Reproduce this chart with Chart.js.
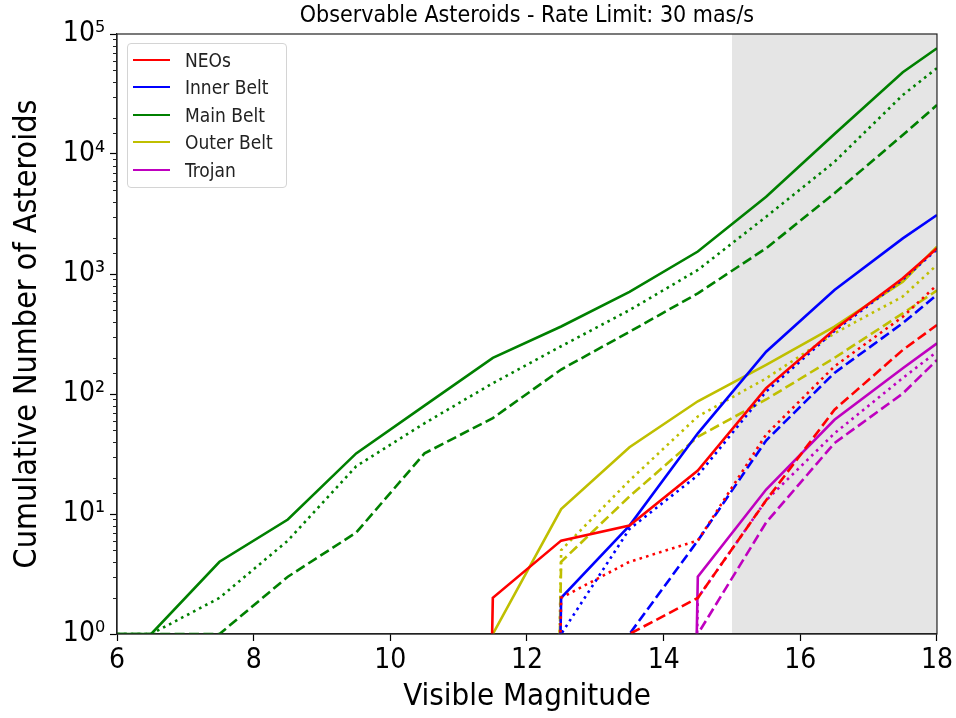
<!DOCTYPE html>
<html>
<head>
<meta charset="utf-8">
<title>Observable Asteroids - Rate Limit: 30 mas/s</title>
<script src="https://cdn.jsdelivr.net/npm/chart.js@4.4.1/dist/chart.umd.min.js"></script>
<style>
    body { margin: 0; background: #fff; }
    #wrap { position: relative; width: 956px; height: 718px; }
    .legend {
        position: absolute;
        box-sizing: border-box;
        width: 160px;
        height: 145px;
        padding-top: 2px;
        border: 1px solid #d4d4d4;
        border-radius: 4px;
        background: rgba(255, 255, 255, 0.8);
        font-family: "DejaVu Sans Condensed", "DejaVu Sans", sans-serif;
        font-size: 19px;
        color: #222;
    }
    .legend .item { height: 27.5px; display: flex; align-items: center; }
    .legend .swatch { display: inline-block; width: 37px; height: 0; border-top: 2.6px solid; margin: 0 15px 0 5px; }
</style>
</head>
<body>
<div id="wrap">
    <canvas id="chart" width="956" height="718"></canvas>
    <div class="legend" id="legend"></div>
</div>
<script>
const magnitudes = [6, 6.5, 7.5, 8.5, 9.5, 10.5, 11.5, 12.5, 13.5, 14.5, 15.5, 16.5, 17.5, 18];

// NEOs
const neoSolid  = [0, 0, 0, 0, 0, 0, 2, 6, 8, 23, 112, 345, 920, 1640];
const neoDotted = [0, 0, 0, 0, 0, 0, 0, 2, 4, 6, 46, 170, 440, 810];
const neoDashed = [0, 0, 0, 0, 0, 0, 0, 0, 1, 2, 13, 74, 233, 376];
// Inner Belt
const innerSolid  = [0, 0, 0, 0, 0, 0, 0, 2, 8, 47, 225, 735, 1980, 3100];
const innerDotted = [0, 0, 0, 0, 0, 0, 0, 1, 7.5, 21, 105, 335, 900, 1600];
const innerDashed = [0, 0, 0, 0, 0, 0, 0, 0, 1, 6, 41, 150, 390, 670];
// Main Belt
const mainSolid  = [1, 1, 4, 9, 32, 80, 200, 365, 710, 1540, 4400, 14700, 48000, 76000];
const mainDotted = [1, 1, 2, 6, 25, 57, 123, 250, 500, 1080, 3000, 8600, 31000, 52000];
const mainDashed = [1, 1, 1, 3, 7, 32, 63, 160, 330, 690, 1640, 4700, 14400, 25600];
// Outer Belt
const outerSolid  = [0, 0, 0, 0, 0, 0, 1, 11, 36, 87, 175, 364, 863, 1690];
const outerDotted = [0, 0, 0, 0, 0, 0, 0, 5, 19, 65, 135, 320, 650, 1190];
const outerDashed = [0, 0, 0, 0, 0, 0, 0, 4, 14, 44, 90, 200, 470, 730];
// Trojan
const trojanSolid  = [0, 0, 0, 0, 0, 0, 0, 0, 0, 3, 16, 61, 164, 264];
const trojanDotted = [0, 0, 0, 0, 0, 0, 0, 0, 0, 2, 13, 47, 136, 225];
const trojanDashed = [0, 0, 0, 0, 0, 0, 0, 0, 0, 1, 8.5, 39, 101, 192];

const populations = ['NEOs', 'Inner Belt', 'Main Belt', 'Outer Belt', 'Trojan'];
const colors = ['#ff0000', '#0000ff', '#008000', '#bfbf00', '#bf00bf'];
const seriesByPopulation = [
    [neoSolid, neoDotted, neoDashed],
    [innerSolid, innerDotted, innerDashed],
    [mainSolid, mainDotted, mainDashed],
    [outerSolid, outerDotted, outerDashed],
    [trojanSolid, trojanDotted, trojanDashed]
];

const xTicks = [6, 8, 10, 12, 14, 16, 18];
const yMin = 1, yMax = 1e5;
const shadeFrom = 15;

const FONT = '"DejaVu Sans Condensed", "DejaVu Sans", sans-serif';
const dashes = [[], [2.6, 4.2], [10, 4.4]];
const superscripts = ['⁰', '¹', '²', '³', '⁴', '⁵', '⁶'];

// matplotlib clips non-positive values on a log axis, so a zero count
// drops straight down out of the plot
function clipLog(v) {
    return v > 0 ? v : 1e-30;
}

function isDecade(v) {
    const e = Math.log10(v);
    return Math.abs(e - Math.round(e)) < 1e-9;
}

const datasets = [];
seriesByPopulation.forEach((group, p) => {
    group.forEach((values, s) => {
        datasets.push({
            label: s === 0 ? populations[p] : populations[p] + ' ' + s,
            data: magnitudes.map((m, i) => ({ x: m, y: clipLog(values[i]) })),
            borderColor: colors[p],
            borderWidth: 2.6,
            borderDash: dashes[s],
            borderCapStyle: 'butt',
            pointRadius: 0,
            tension: 0,
            fill: false
        });
    });
});

const axesPlugin = {
    id: 'axesDecor',
    beforeDraw(chart) {
        const { ctx, chartArea: a, scales } = chart;
        ctx.save();
        ctx.fillStyle = '#fff';
        ctx.fillRect(0, 0, chart.width, chart.height);
        const x0 = scales.x.getPixelForValue(shadeFrom);
        ctx.fillStyle = '#e5e5e5';
        ctx.fillRect(x0, a.top, a.right - x0, a.bottom - a.top);
        ctx.restore();
    },
    afterDraw(chart) {
        const { ctx, chartArea: a, scales } = chart;
        ctx.save();
        ctx.strokeStyle = '#222';
        ctx.lineWidth = 1.2;
        ctx.strokeRect(a.left, a.top, a.right - a.left, a.bottom - a.top);
        // minor ticks on the log axis
        ctx.lineWidth = 1;
        scales.y.ticks.forEach(t => {
            if (isDecade(t.value)) return;
            const y = Math.round(scales.y.getPixelForValue(t.value)) + 0.5;
            ctx.beginPath();
            ctx.moveTo(a.left - 4, y);
            ctx.lineTo(a.left, y);
            ctx.stroke();
        });
        ctx.restore();
    }
};

Chart.defaults.font.family = FONT;
Chart.defaults.color = '#000';

const chart = new Chart(document.getElementById('chart'), {
    type: 'line',
    data: { datasets },
    options: {
        responsive: false,
        animation: false,
        layout: { padding: { left: 0, right: 18, top: 0, bottom: 0 } },
        plugins: {
            legend: { display: false },
            tooltip: { enabled: false },
            title: {
                display: true,
                text: 'Observable Asteroids - Rate Limit: 30 mas/s',
                fullSize: false,
                color: '#000',
                font: { size: 23, weight: 'normal' },
                padding: { top: 2, bottom: 4.4 }
            }
        },
        scales: {
            x: {
                type: 'linear',
                min: 6,
                max: 18,
                afterBuildTicks: s => { s.ticks = xTicks.map(v => ({ value: v })); },
                ticks: { font: { size: 28 }, color: '#000', padding: 3, maxRotation: 0 },
                grid: { drawOnChartArea: false, tickLength: 7, color: '#000', tickWidth: 1.2 },
                border: { color: '#222', width: 1.2 },
                title: {
                    display: true,
                    text: 'Visible Magnitude',
                    color: '#000',
                    font: { size: 31 },
                    padding: { top: 0, bottom: 2 }
                },
                afterFit: s => { s.height = 84; }
            },
            y: {
                type: 'logarithmic',
                min: yMin,
                max: yMax,
                ticks: {
                    autoSkip: false,
                    font: { size: 28 },
                    color: '#000',
                    padding: 5,
                    callback: v => isDecade(v) ? '10' + superscripts[Math.round(Math.log10(v))] : ''
                },
                grid: {
                    drawOnChartArea: false,
                    tickLength: 7,
                    tickWidth: 1.2,
                    tickColor: c => (c.tick && isDecade(c.tick.value)) ? '#000' : 'rgba(0,0,0,0)'
                },
                border: { color: '#222', width: 1.2 },
                title: {
                    display: true,
                    text: 'Cumulative Number of Asteroids',
                    color: '#000',
                    font: { size: 32 },
                    padding: { top: 8, bottom: 0 }
                },
                afterFit: s => { s.width = 117; }
            }
        }
    },
    plugins: [axesPlugin]
});

// legend box in the upper left corner of the plot
const legendBox = document.getElementById('legend');
legendBox.style.left = (chart.chartArea.left + 10) + 'px';
legendBox.style.top = (chart.chartArea.top + 9) + 'px';
legendBox.innerHTML = populations.map((name, i) =>
    `<div class="item"><span class="swatch" style="border-color:${colors[i]}"></span>${name}</div>`
).join('');
</script>
</body>
</html>
